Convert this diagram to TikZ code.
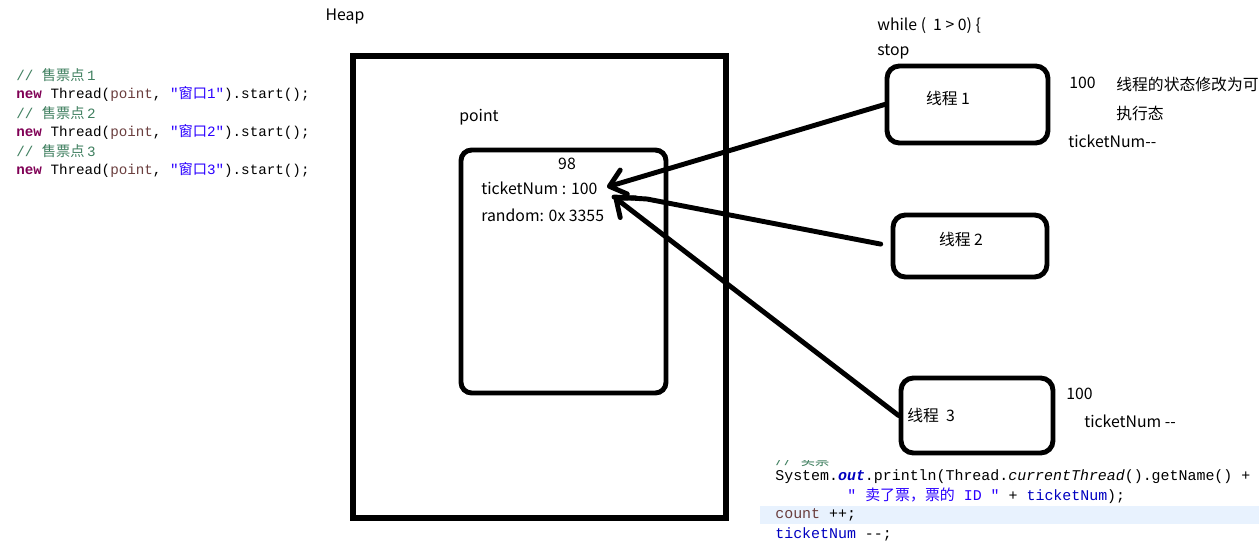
\documentclass[tikz,border=0pt]{standalone}
\usepackage{fontspec}
\setmainfont{Noto Sans CJK SC}
\setmonofont{Liberation Mono}
\newfontfamily\cjk{Noto Sans CJK SC}
\usetikzlibrary{positioning,arrows.meta}
\definecolor{CodeComment}{RGB}{63,127,95}
\definecolor{CodeKeyword}{RGB}{127,0,85}
\definecolor{CodeString}{RGB}{42,0,255}
\definecolor{CodeField}{RGB}{0,0,192}
\definecolor{CodeParam}{RGB}{106,62,62}
\definecolor{CodeLine}{RGB}{232,242,254}

\begin{document}
\begin{tikzpicture}[
    x=0.02cm,
    y=-0.02cm,
    font=\fontsize{9}{11}\selectfont,
    heapbox/.style={
        draw,
        line width=3pt,
        minimum width=7.46cm,
        minimum height=9.24cm,
        inner sep=0pt
    },
    objbox/.style={
        draw,
        line width=2.8pt,
        rounded corners=6pt,
        inner sep=0pt
    },
    thread/.style={
        draw,
        line width=2.8pt,
        rounded corners=7pt,
        inner sep=0pt
    },
    txt/.style={
        anchor=west,
        inner sep=0pt
    },
    code/.style={
        anchor=west,
        inner sep=0pt,
        font=\ttfamily\fontsize{8.1}{10}\selectfont
    },
    arrow/.style={
        line width=2.8pt,
        line cap=round,
        line join=round,
        -{Straight Barb[length=3mm,width=5mm,round]}
    }
]
\useasboundingbox (0,0) rectangle (1259,542);

% source code, left
\node[code, text=CodeComment] (c1) at (16,75) {// {\cjk 售票点}\,1};
\node[code] (c2) at (16,94) {\textcolor{CodeKeyword}{\textbf{new}} Thread(\textcolor{CodeParam}{point}, \textcolor{CodeString}{"{\cjk 窗口}1"}).start();};
\node[code, text=CodeComment] (c3) at (16,113) {// {\cjk 售票点}\,2};
\node[code] (c4) at (16,132) {\textcolor{CodeKeyword}{\textbf{new}} Thread(\textcolor{CodeParam}{point}, \textcolor{CodeString}{"{\cjk 窗口}2"}).start();};
\node[code, text=CodeComment] (c5) at (16,151) {// {\cjk 售票点}\,3};
\node[code] (c6) at (16,170) {\textcolor{CodeKeyword}{\textbf{new}} Thread(\textcolor{CodeParam}{point}, \textcolor{CodeString}{"{\cjk 窗口}3"}).start();};

% heap
\node (heaplbl) at (345,17) {Heap};
\node[heapbox] (heap) at (539.5,287) {};

% object point
\node (pointlbl) at (479,117) {point};
\node[objbox, minimum width=4.1cm, minimum height=4.86cm] (point) at (563.5,271.5) {};
\node (newval) at (567,164) {98};
\node[txt] (num) at (481,188) {ticketNum : 100};
\node[txt] (rnd) at (481,215) {random: 0x 3355};
\coordinate (tip1) at (607,187);
\coordinate (tip2) at (614,197);

% threads
\node[txt] (loop) at (877,26) {while (\ \ 1 > 0) \{};
\node[txt] (stop) at (877,52) {stop};

\node[thread, minimum width=3.22cm, minimum height=1.54cm] (t1) at (967.5,104.5) {};
\node (t1lbl) at (948,98) {线程 1};
\node[txt] (t1val) at (1069,83) {100};
\node[txt] (t1note) at (1116,84) {线程的状态修改为可};
\node[txt] (t1note2) at (1116,113) {执行态};
\node[txt] (t1dec) at (1068,141) {ticketNum-{}-};

\node[thread, minimum width=3.08cm, minimum height=1.24cm] (t2) at (970,246) {};
\node (t2lbl) at (961,239) {线程 2};

\node[thread, minimum width=3.04cm, minimum height=1.5cm] (t3) at (977,415.5) {};
\node[txt] (t3lbl) at (907,415) {线程\ \ 3};
\node[txt] (t3val) at (1066,394) {100};
\node[txt] (t3dec) at (1084,421) {ticketNum -{}-};

\draw[arrow] (t1.west) -- (tip1);
\draw[arrow, shorten <=0.2cm, -] (t2.west) -- (647,199) -- (tip2);
\draw[arrow] (t3.west) -- (tip2);

% source code, bottom right
\fill[CodeLine] (760,506) rectangle (1259,524);
\begin{scope}
\clip (760,460) rectangle (1259,542);
\node[code, text=CodeComment] (b0) at (775,460) {// {\cjk 卖票}};
\end{scope}
\node[code, font=\ttfamily\fontsize{8.5}{10}\selectfont] (b1) at (775,477) {System.\textcolor{CodeField}{\textbf{\textit{out}}}.println(Thread.\textit{currentThread}().getName() +};
\node[code, font=\ttfamily\fontsize{8.5}{10}\selectfont] (b2) at (847,496) {\textcolor{CodeString}{" {\cjk 卖了票，票的} ID "} + \textcolor{CodeField}{ticketNum});};
\node[code, font=\ttfamily\fontsize{8.5}{10}\selectfont] (b3) at (775,515) {\textcolor{CodeParam}{count} ++;};
\node[code, font=\ttfamily\fontsize{8.5}{10}\selectfont] (b4) at (775,534) {\textcolor{CodeField}{ticketNum} --;};

\end{tikzpicture}
\end{document}
